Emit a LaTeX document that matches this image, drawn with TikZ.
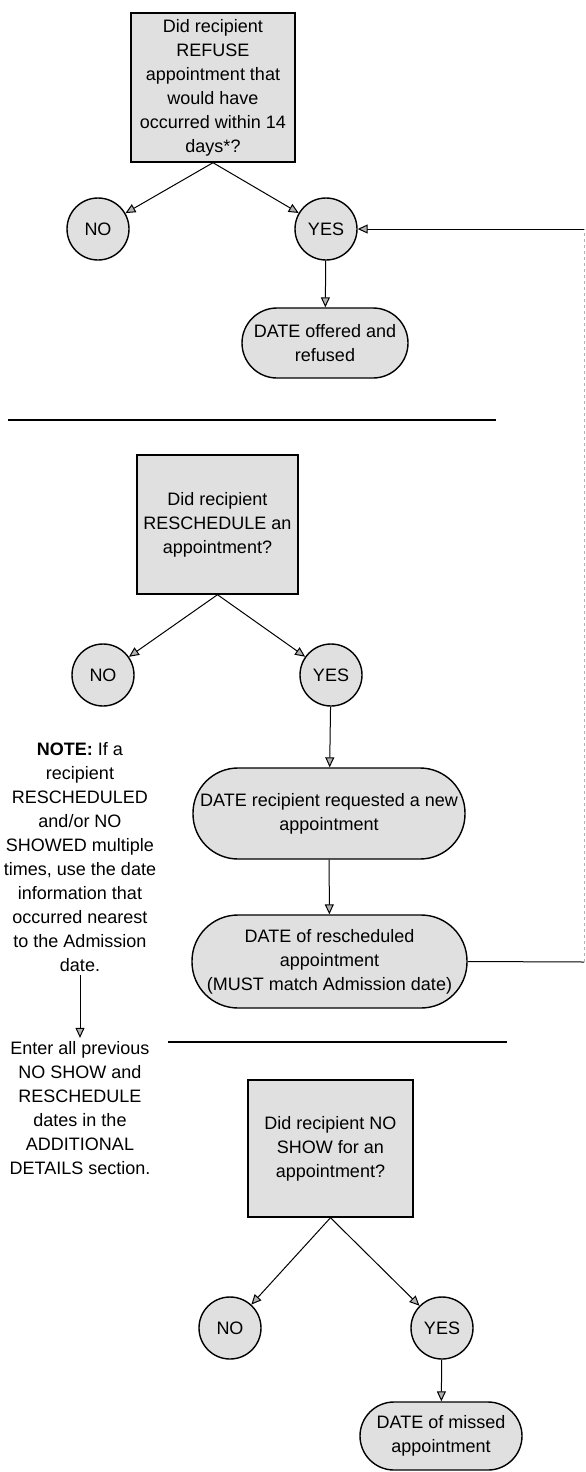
\documentclass[tikz,border=0pt]{standalone}
\usepackage{fontspec}
\setmainfont{Liberation Sans}
\usetikzlibrary{arrows.meta}
\begin{document}
\begin{tikzpicture}[x=1pt,y=-1pt,
  every node/.style={font=\fontsize{18}{24}\selectfont, align=center},
  qbox/.style={draw=black, line width=1.4pt, fill=gray!24, rectangle, inner sep=1pt},
  ans/.style={draw=black, line width=1.4pt, fill=gray!24, circle, minimum size=62pt, inner sep=0pt},
  term/.style={draw=black, line width=1.4pt, fill=gray!24, rectangle, inner sep=1pt},
  flow/.style={line width=1pt, -{Triangle[length=10pt,width=9pt,fill=gray!60]}},
  sep/.style={line width=1.4pt}
]
\useasboundingbox (0,0) rectangle (586,1472);

% ---------- Section 1 ----------
\node[qbox, minimum width=164pt, minimum height=149pt] (q1) at (213,87.5)
  {Did recipient\\REFUSE\\appointment that\\would have\\occurred within 14\\days*?};
\node[ans] (no1) at (98,229) {NO};
\node[ans] (yes1) at (326,229) {YES};
\node[term, minimum width=166pt, minimum height=70pt, rounded corners=35pt] (t1) at (325,343)
  {DATE offered and\\refused};
\draw[flow] (q1.south) -- (no1);
\draw[flow] (q1.south) -- (yes1);
\draw[flow] (yes1) -- (t1);

\draw[sep] (8,420) -- (496,420);

% ---------- Section 2 ----------
\node[qbox, minimum width=161pt, minimum height=139pt] (q2) at (217.5,524.5)
  {Did recipient\\RESCHEDULE an\\appointment?};
\node[ans] (no2) at (103,675) {NO};
\node[ans] (yes2) at (331,675) {YES};
\node[term, minimum width=272pt, minimum height=91pt, rounded corners=45pt] (t2) at (329,813.5)
  {DATE recipient requested a new\\appointment};
\node[term, minimum width=275pt, minimum height=93pt, rounded corners=46pt] (t3) at (329.5,961.5)
  {DATE of rescheduled\\appointment\\(MUST match Admission date)};
\draw[flow] (q2.south) -- (no2);
\draw[flow] (q2.south) -- (yes2);
\draw[flow] (yes2) -- (t2);
\draw[flow] (t2) -- (t3);

% note column
\node (note) at (80,857)
  {\textbf{NOTE:} If a\\recipient\\RESCHEDULED\\and/or NO\\SHOWED multiple\\times, use the date\\information that\\occurred nearest\\to the Admission\\date.};
\node (enter) at (80,1108)
  {Enter all previous\\NO SHOW and\\RESCHEDULE\\dates in the\\ADDITIONAL\\DETAILS section.};
\draw[flow] (note.south) -- (enter.north);

% loop back connector on the right
\coordinate (c1) at (584,962);
\coordinate (c2) at (584,229);
\draw[line width=1pt] (t3.east) -- (c1);
\draw[gray!60, dashed, line width=0.6pt] (c1) -- (c2);
\draw[flow] (c2) -- (yes1.east);

\draw[sep] (168,1042) -- (507,1042);

% ---------- Section 3 ----------
\node[qbox, minimum width=165pt, minimum height=137pt] (q3) at (330.5,1148.5)
  {Did recipient NO\\SHOW for an\\appointment?};
\node[ans] (no3) at (230,1328) {NO};
\node[ans] (yes3) at (442,1328) {YES};
\node[term, minimum width=162pt, minimum height=68pt, rounded corners=34pt] (t4) at (441,1436)
  {DATE of missed\\appointment};
\draw[flow] (q3.south) -- (no3);
\draw[flow] (q3.south) -- (yes3);
\draw[flow] (yes3) -- (t4);
\end{tikzpicture}
\end{document}
